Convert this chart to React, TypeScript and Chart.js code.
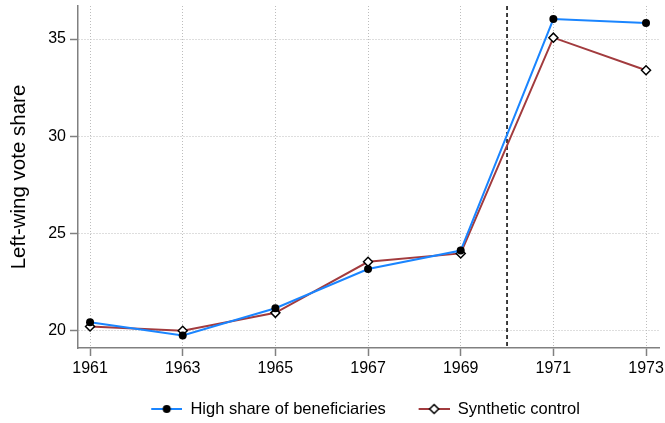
import { useEffect, useRef } from 'react'
import Chart from 'chart.js/auto'

const years = [1961, 1963, 1965, 1967, 1969, 1971, 1973]
const highShare = [20.42, 19.74, 21.14, 23.16, 24.11, 36.03, 35.83]
const synthetic = [20.2, 19.98, 20.9, 23.53, 23.96, 35.07, 33.39]
const yTicks = [20, 25, 30, 35]
const treatmentYear = 1970

const blue = '#1a85ff'
const red = '#a23b3e'
const axisGray = '#808080'
const gridGray = '#bdbdbd'
const font = '"Liberation Sans", Arial, Helvetica, sans-serif'

// line + marker sample for the legend (10px empty lead-in on the left)
function legendIcon(color: string, marker: 'dot' | 'diamond') {
  const c = document.createElement('canvas')
  c.width = 41
  c.height = 12
  const ctx = c.getContext('2d')!
  ctx.strokeStyle = color
  ctx.lineWidth = 2
  ctx.beginPath()
  ctx.moveTo(10, 6)
  ctx.lineTo(41, 6)
  ctx.stroke()
  const cx = 25.5
  if (marker === 'dot') {
    ctx.fillStyle = '#000'
    ctx.beginPath()
    ctx.arc(cx, 6, 4, 0, Math.PI * 2)
    ctx.fill()
  } else {
    ctx.fillStyle = '#fff'
    ctx.strokeStyle = '#000'
    ctx.lineWidth = 1.5
    ctx.beginPath()
    ctx.moveTo(cx, 1.5)
    ctx.lineTo(cx + 4.5, 6)
    ctx.lineTo(cx, 10.5)
    ctx.lineTo(cx - 4.5, 6)
    ctx.closePath()
    ctx.fill()
    ctx.stroke()
  }
  return c
}

// dashed vertical line at the treatment year
const treatmentLine = {
  id: 'treatmentLine',
  beforeDatasetsDraw(chart: any) {
    const { ctx, chartArea, scales } = chart
    const x = scales.x.getPixelForValue(treatmentYear)
    ctx.save()
    ctx.strokeStyle = '#000'
    ctx.lineWidth = 1.5
    ctx.setLineDash([4, 3])
    ctx.beginPath()
    ctx.moveTo(x, chartArea.top)
    ctx.lineTo(x, chartArea.bottom)
    ctx.stroke()
    ctx.restore()
  }
}

// nudge the legend a bit to the left, like the original
const legendShift = {
  id: 'legendShift',
  afterLayout(chart: any) {
    if (!chart.legend) return
    chart.legend.left -= 8
    chart.legend.right -= 8
  }
}

export default function App() {
  const chartRef = useRef<HTMLCanvasElement>(null)

  useEffect(() => {
    if (!chartRef.current) return
    const existing = Chart.getChart(chartRef.current)
    if (existing) existing.destroy()

    const icons = [legendIcon(blue, 'dot'), legendIcon(red, 'diamond')]
    const tickFont = { family: font, size: 16 }

    const chart = new Chart(chartRef.current, {
      type: 'line',
      data: {
        datasets: [
          {
            label: 'High share of beneficiaries',
            data: years.map((y, i) => ({ x: y, y: highShare[i] })),
            borderColor: blue,
            borderWidth: 2,
            pointStyle: 'circle',
            pointRadius: 4,
            pointBackgroundColor: '#000',
            pointBorderColor: '#000',
            pointBorderWidth: 0,
            tension: 0
          },
          {
            label: 'Synthetic control',
            data: years.map((y, i) => ({ x: y, y: synthetic[i] })),
            borderColor: red,
            borderWidth: 2,
            pointStyle: 'rectRot',
            pointRadius: 4.5,
            pointBackgroundColor: '#fff',
            pointBorderColor: '#000',
            pointBorderWidth: 1.5,
            tension: 0
          }
        ]
      },
      options: {
        animation: false,
        events: [],
        responsive: true,
        maintainAspectRatio: false,
        layout: { padding: { left: 0, right: 6, top: 4, bottom: -4.25 } },
        plugins: {
          tooltip: { enabled: false },
          legend: {
            position: 'bottom',
            fullSize: false,
            labels: {
              usePointStyle: true,
              pointStyleWidth: 41,
              padding: 22.75,
              color: '#000',
              font: { family: font, size: 16.5 },
              generateLabels: (c: any) =>
                c.data.datasets.map((ds: any, i: number) => ({
                  text: ds.label,
                  pointStyle: icons[i],
                  fillStyle: 'transparent',
                  strokeStyle: 'transparent',
                  lineWidth: 0,
                  hidden: false,
                  datasetIndex: i,
                  fontColor: '#000'
                }))
            }
          }
        },
        scales: {
          x: {
            type: 'linear',
            min: 1960.74,
            max: 1973.28,
            afterBuildTicks: (s: any) => { s.ticks = years.map(v => ({ value: v })) },
            afterFit: (s: any) => {
              s.height = 30
              s.paddingLeft = 0
              s.paddingRight = 0
            },
            ticks: {
              color: '#000',
              padding: 3,
              font: tickFont,
              callback: (v: any) => String(v)
            },
            grid: {
              color: gridGray,
              lineWidth: 1,
              tickLength: 8,
              tickColor: axisGray,
              tickWidth: 1.5,
              tickBorderDash: []
            },
            border: { color: axisGray, width: 1.5, dash: [1, 2] }
          },
          y: {
            min: 19.09,
            max: 36.7,
            afterBuildTicks: (s: any) => { s.ticks = yTicks.map(v => ({ value: v })) },
            afterFit: (s: any) => {
              s.width = 78
              s.paddingTop = 0
              s.paddingBottom = 0
            },
            ticks: {
              color: '#000',
              padding: 4,
              font: tickFont,
              callback: (v: any) => String(v)
            },
            grid: {
              color: gridGray,
              lineWidth: 1,
              tickLength: 8,
              tickColor: axisGray,
              tickWidth: 1.5,
              tickBorderDash: []
            },
            border: { color: axisGray, width: 1.5, dash: [1, 2] },
            title: {
              display: true,
              text: 'Left-wing vote share',
              color: '#000',
              font: { family: font, size: 20.5 },
              padding: { top: 7, bottom: 0 }
            }
          }
        }
      },
      plugins: [treatmentLine, legendShift]
    })

    return () => { chart.destroy() }
  }, [])

  return (
    <div style={{ position: 'fixed', left: 0, top: 0, width: '665px', height: '423px', background: '#fff' }}>
      <canvas ref={chartRef} />
    </div>
  )
}
